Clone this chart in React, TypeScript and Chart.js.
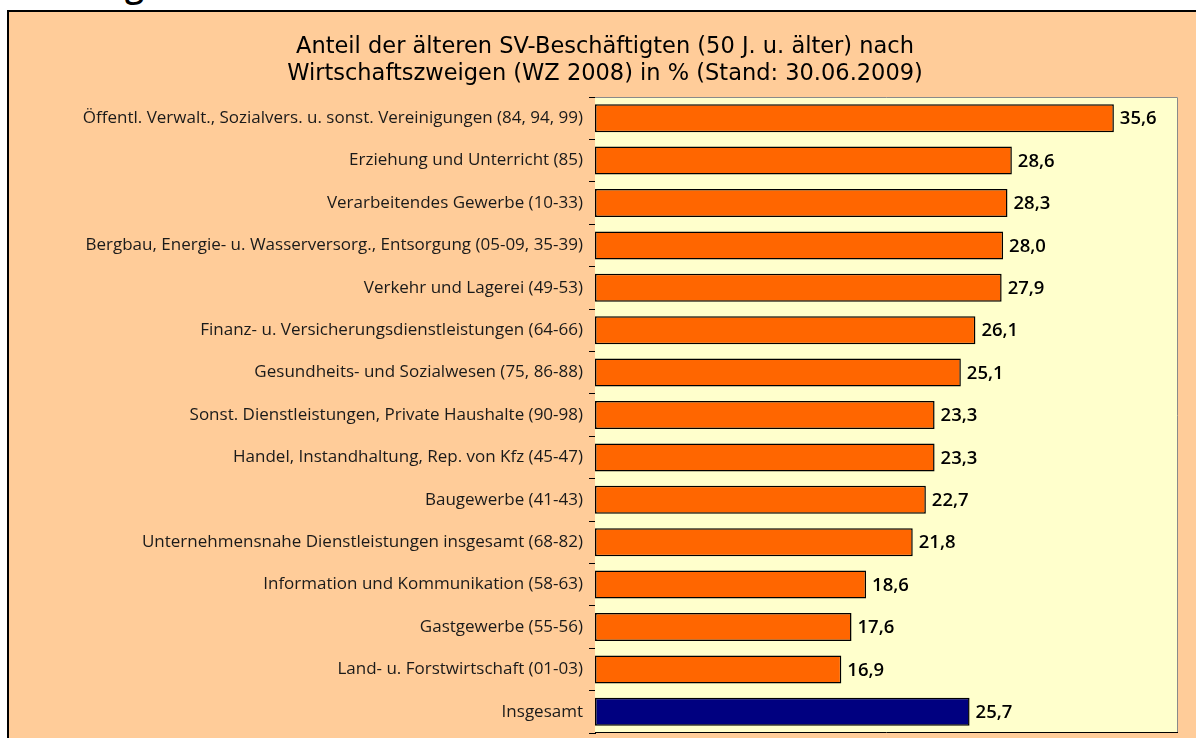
import React, { useEffect, useRef } from "react";
import { Chart, registerables } from "chart.js";

Chart.register(...registerables);

const categories = [
  "Öffentl. Verwalt., Sozialvers. u. sonst. Vereinigungen (84, 94, 99)",
  "Erziehung und Unterricht (85)",
  "Verarbeitendes Gewerbe (10-33)",
  "Bergbau, Energie- u. Wasserversorg., Entsorgung (05-09, 35-39)",
  "Verkehr und Lagerei (49-53)",
  "Finanz- u. Versicherungsdienstleistungen (64-66)",
  "Gesundheits- und Sozialwesen (75, 86-88)",
  "Sonst. Dienstleistungen, Private Haushalte (90-98)",
  "Handel, Instandhaltung, Rep. von Kfz (45-47)",
  "Baugewerbe (41-43)",
  "Unternehmensnahe Dienstleistungen insgesamt (68-82)",
  "Information und Kommunikation (58-63)",
  "Gastgewerbe (55-56)",
  "Land- u. Forstwirtschaft (01-03)",
  "Insgesamt",
];

const values = [35.6, 28.6, 28.3, 28.0, 27.9, 26.1, 25.1, 23.3, 23.3, 22.7, 21.8, 18.6, 17.6, 16.9, 25.7];

const titleLines = [
  "Anteil der älteren SV-Beschäftigten (50 J. u. älter) nach",
  "Wirtschaftszweigen (WZ 2008) in % (Stand: 30.06.2009)",
];

const FONT = "'Open Sans', 'Noto Sans', sans-serif";
const TITLE_FONT = "'DejaVu Sans', 'Open Sans', sans-serif";

export default function App() {
  const ref = useRef<HTMLCanvasElement | null>(null);

  useEffect(() => {
    if (!ref.current) return;
    const frame = {
      id: "frame",
      beforeDatasetsDraw(chart: any) {
        const { ctx, chartArea: a } = chart;
        ctx.save();
        ctx.fillStyle = "#FFFFCC";
        ctx.fillRect(a.left, a.top, a.right - a.left, a.bottom - a.top);
        ctx.restore();
      },
      afterDatasetsDraw(chart: any) {
        const { ctx, chartArea: a } = chart;
        ctx.save();
        ctx.lineWidth = 1;
        ctx.strokeStyle = "#8a8a8a";
        ctx.beginPath();
        ctx.moveTo(a.left, a.top + 0.5);
        ctx.lineTo(a.right - 0.5, a.top + 0.5);
        ctx.lineTo(a.right - 0.5, a.bottom);
        ctx.stroke();
        ctx.strokeStyle = "#000";
        ctx.beginPath();
        ctx.moveTo(a.left, a.bottom - 0.5);
        ctx.lineTo(a.right, a.bottom - 0.5);
        ctx.stroke();
        const meta = chart.getDatasetMeta(0);
        ctx.fillStyle = "#000";
        ctx.font = `600 18.5px ${FONT}`;
        ctx.textBaseline = "middle";
        ctx.textAlign = "left";
        meta.data.forEach((bar: any, i: number) => {
          ctx.fillText(values[i].toFixed(1).replace(".", ","), bar.x + 6, bar.y + 1);
        });
        ctx.restore();
      },
    };
    const chart = new Chart(ref.current, {
      type: "bar",
      data: {
        labels: categories,
        datasets: [
          {
            data: values,
            backgroundColor: values.map((_, i) => (i === values.length - 1 ? "#000080" : "#FF6600")),
            borderColor: "#000",
            borderWidth: 1.5,
            borderSkipped: false,
            barPercentage: 0.66,
            categoryPercentage: 1,
          },
        ],
      },
      options: {
        indexAxis: "y",
        responsive: false,
        animation: false,
        devicePixelRatio: 1,
        layout: { padding: { left: 32, right: 18, top: 0, bottom: 5 } },
        plugins: {
          legend: { display: false },
          tooltip: { enabled: false },
          title: {
            display: true,
            text: titleLines,
            color: "#000",
            font: { family: TITLE_FONT, size: 22.5, weight: "500", lineHeight: 1.2 },
            padding: { top: 34, bottom: 9 },
          },
        },
        scales: {
          x: { display: false, min: 0, max: 40 },
          y: {
            afterFit: (s: any) => {
              s.width = 563;
              s.paddingTop = 0;
              s.paddingBottom = 0;
            },
            grid: {
              offset: true,
              drawOnChartArea: false,
              tickLength: 6,
              color: "#000",
            },
            border: { display: true, color: "#000", width: 1 },
            ticks: {
              color: "#1a1a1a",
              padding: 6,
              font: { family: FONT, size: 17 },
            },
          },
        },
      },
      plugins: [frame],
    } as any);
    return () => chart.destroy();
  }, []);

  return (
    <div style={{ position: "fixed", left: 0, top: 0, width: 1196, height: 738, background: "#fff", overflow: "hidden" }}>
      <div
        style={{
          position: "absolute",
          left: 125,
          top: -39,
          fontFamily: FONT,
          fontSize: 34,
          fontWeight: 600,
          color: "#000",
        }}
      >
        g
      </div>
      <div
        style={{
          position: "absolute",
          left: 7,
          top: 10,
          width: 1300,
          height: 800,
          border: "2px solid #000",
          background: "#FFCC99",
        }}
      />
      <canvas ref={ref} width={1196} height={738} style={{ position: "absolute", left: 0, top: 0 }} />
    </div>
  );
}
